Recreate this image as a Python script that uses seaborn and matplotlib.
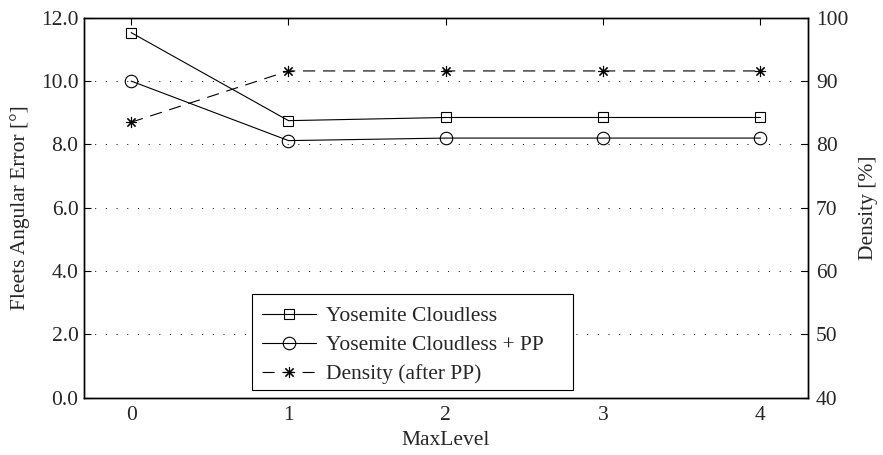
import numpy as np
import pandas as pd
import matplotlib
matplotlib.use("Agg")
import matplotlib.pyplot as plt
from matplotlib.patches import Rectangle
import seaborn as sns

max_level = [0, 1, 2, 3, 4]
cloudless = [11.53, 8.75, 8.85, 8.85, 8.85]
cloudless_pp = [10.0, 8.12, 8.2, 8.2, 8.2]
density = [83.5, 91.6, 91.6, 91.6, 91.6]

left_ticks = [0, 2, 4, 6, 8, 10, 12]
left_ticklabels = ["0.0", "2.0", "4.0", "6.0", "8.0", "10.0", "12.0"]
right_ticks = [40, 50, 60, 70, 80, 90, 100]

FS = 15.5
sns.set_style("white")
plt.rcParams['font.family'] = ['Liberation Serif', 'DejaVu Serif']
plt.rcParams['font.size'] = FS

df = pd.DataFrame({"MaxLevel": max_level, "c": cloudless, "cpp": cloudless_pp, "d": density})

fig = plt.figure(figsize=(8.83, 4.55), dpi=100)
ax = fig.add_axes([0.0951, 0.1259, 0.8196, 0.8351])
ax2 = ax.twinx()

lw = 0.8
sns.lineplot(data=df, x="MaxLevel", y="c", ax=ax, color="black", lw=lw, marker="s",
             markersize=7, markerfacecolor="none", markeredgecolor="black", markeredgewidth=0.8,
             label="Yosemite Cloudless", legend=False)
sns.lineplot(data=df, x="MaxLevel", y="cpp", ax=ax, color="black", lw=lw, marker="o",
             markersize=9, markerfacecolor="none", markeredgecolor="black", markeredgewidth=0.8,
             label="Yosemite Cloudless + PP", legend=False)
sns.lineplot(data=df, x="MaxLevel", y="d", ax=ax2, color="black", lw=lw, marker=(8, 2, 0),
             markersize=8, markeredgecolor="black", markeredgewidth=0.8, linestyle=(0, (11, 7)),
             label="Density (after PP)", legend=False)

ax.set_xlim(-0.3, 4.3)
ax.set_ylim(0, 12)
ax2.set_ylim(40, 100)
ax.set_xticks(max_level)
ax.set_yticks(left_ticks)
ax.set_yticklabels(left_ticklabels)
ax2.set_yticks(right_ticks)

ax.yaxis.grid(True, linestyle=(0, (1, 10)), color="black", lw=0.7)
ax.set_axisbelow(True)

ax.tick_params(axis="both", direction="in", length=5, width=0.8, color="black", labelsize=FS, pad=4)
ax.tick_params(axis="x", top=True, pad=6)
ax.tick_params(axis="y", right=False)
ax2.tick_params(axis="y", direction="in", length=5, width=0.8, color="black", labelsize=FS, pad=6)

for a in (ax, ax2):
    for s in a.spines.values():
        s.set_color("black")
        s.set_linewidth(1.0)

ax.set_xlabel("MaxLevel", fontsize=FS, labelpad=4)
ax.set_ylabel("Fleets Angular Error [°]", fontsize=FS, labelpad=8)
ax2.set_ylabel("Density [%]", fontsize=FS, labelpad=8)

# legend frame drawn as a plain box (MATLAB style, extra right padding)
box = Rectangle((0.232, 0.0203), 0.4437, 0.2527, transform=ax2.transAxes,
                facecolor="white", edgecolor="black", lw=0.8, zorder=5)
ax2.add_patch(box)

h1, l1 = ax.get_legend_handles_labels()
h2, l2 = ax2.get_legend_handles_labels()
leg = ax2.legend(h1 + h2, l1 + l2, loc="lower left", bbox_to_anchor=(0.236, 0.015),
                 frameon=False, fontsize=FS, handlelength=2.5, borderpad=0.35,
                 labelspacing=0.42, handletextpad=0.45, borderaxespad=0)
leg.set_zorder(6)

fig.savefig("out.png", dpi=100)
